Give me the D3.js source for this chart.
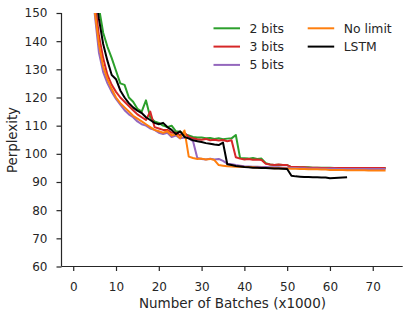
<!DOCTYPE html>
<html>
<head>
<meta charset="utf-8">
<script src="https://cdn.jsdelivr.net/npm/d3@7"></script>
<style>
  body { margin: 0; background: #fff; }
  svg text { font-family: "DejaVu Sans", sans-serif; fill: #262626; }
</style>
</head>
<body>
<svg id="chart" width="415" height="317"></svg>
<script>
// batches (x1000), one reading per thousand
const batches = d3.range(5, 74);

const bits2 = [172, 152, 143, 138, 134, 129.5, 125, 124.5, 120, 118.5, 116, 115, 119, 113, 111.5, 111, 110, 109.5, 110, 108,
  107.8, 107, 106.5, 106, 105.8, 105.8, 105.5, 105.6, 105.3, 105.5, 105.2, 105.4, 105.5, 106.7, 98.5, 98.4, 98.3, 98.5, 98.2, 98.3,
  96.7, 96.2, 96, 96.1, 96, 96, 95.3, 95.3, 95.2, 95.2, 95.2, 95.1, 95.1, 95.1, 95.1, 95.1, 95, 95, 95, 95,
  95, 95, 95, 95, 95, 95, 95, 95, 95];
const bits3 = [155, 142, 134, 128, 124.5, 122, 120, 118.5, 117, 115.5, 114, 113, 112, 115, 109.5, 109, 108.5, 108.5, 107.5, 107.5,
  106.5, 107.5, 106, 105.5, 105.2, 105, 105.3, 104.8, 105, 104.7, 104.9, 104.5, 104.8, 98.8, 98.3, 98, 98.2, 97.9, 98, 97.8,
  96.5, 96.2, 96, 96.2, 96, 96, 95.3, 95.3, 95.2, 95.2, 95.1, 95.1, 95.1, 95, 95, 95, 95, 95, 95, 95,
  95, 95, 95, 95, 95, 95, 95, 95, 95];
const bits5 = [150, 136, 129, 125, 122, 119.5, 117.5, 115.5, 114, 113, 111.5, 110.5, 110, 109, 108.5, 107.5, 107, 107.5, 106, 106.5,
  105.5, 105.8, 105.5, 104.5, 98.5, 98.2, 98, 98.3, 98, 98.2, 97.5, 96.5, 96.3, 96, 95.8, 95.6, 95.5, 95.4, 95.4, 95.3,
  95.3, 95.2, 95.2, 95.2, 95.1, 95.1, 95, 95, 94.9, 94.9, 94.8, 94.8, 94.8, 94.7, 94.7, 94.7, 94.7, 94.6, 94.6, 94.6,
  94.6, 94.6, 94.6, 94.6, 94.6, 94.6, 94.6, 94.6, 94.6];
const noLimit = [151, 139, 131, 126.5, 123, 120, 118, 116.5, 115, 113.5, 112.5, 111.5, 110.5, 109.5, 108.5, 108, 107.5, 108, 106.5, 107,
  105.5, 108.3, 99, 98.5, 98.2, 98.3, 98, 98.2, 97.8, 96, 95.8, 95.6, 95.5, 95.4, 95.4, 95.3, 95.3, 95.2, 95.1, 95.1,
  95, 95, 94.9, 94.9, 94.8, 94.8, 94.7, 94.7, 94.6, 94.6, 94.5, 94.5, 94.5, 94.4, 94.4, 94.3, 94.3, 94.3, 94.3, 94.2,
  94.2, 94.2, 94.2, 94.2, 94.1, 94.1, 94.1, 94.1, 94.1];
const lstm = [160, 148, 139, 133, 128, 126.5, 122.5, 120, 118, 116.5, 115.3, 114.5, 113, 112, 111, 110.5, 111, 109.5, 108.5, 107,
  108, 106, 105.5, 104.8, 104.5, 104.2, 103.8, 103.6, 103.3, 103.1, 104, 96.3, 96, 95.7, 95.5, 95.3, 95.2, 95.1, 95.1, 95,
  95, 94.9, 94.8, 94.8, 94.7, 94.6, 92.2, 92, 91.9, 91.8, 91.8, 91.7, 91.7, 91.6, 91.6, 91.3, 91.4, 91.5, 91.6, 91.7];

const seriesNames = ["2 bits", "3 bits", "5 bits", "No limit", "LSTM"];
const seriesValues = [bits2, bits3, bits5, noLimit, lstm];
const colors = ["#2ca02c", "#d62728", "#9467bd", "#ff7f0e", "#000000"];

const xTicks = [0, 10, 20, 30, 40, 50, 60, 70];
const yTicks = [60, 70, 80, 90, 100, 110, 120, 130, 140, 150];

const svg = d3.select("#chart");
const plotLeft = 61.5, plotRight = 402.7, plotTop = 13, plotBottom = 266.5;

const x = d3.scaleLinear().domain([-2.74, 77]).range([plotLeft, plotRight]);
const y = d3.scaleLinear().domain([60, 150]).range([plotBottom, plotTop]);

svg.append("clipPath").attr("id", "plotClip")
  .append("rect").attr("x", plotLeft).attr("y", plotTop)
  .attr("width", plotRight - plotLeft).attr("height", plotBottom - plotTop);

//lines, drawn in legend order so LSTM ends on top
const line = d3.line().x(d => x(d[0])).y(d => y(d[1]));
const plot = svg.append("g").attr("clip-path", "url(#plotClip)");
seriesValues.forEach((vals, i) => {
  const pts = vals.map((v, j) => [batches[j], v]);
  plot.append("path")
    .attr("d", line(pts))
    .attr("fill", "none")
    .attr("stroke", colors[i])
    .attr("stroke-width", 2)
    .attr("stroke-linejoin", "round");
});

const xAxis = svg.append("g")
  .attr("transform", `translate(0,${plotBottom})`)
  .call(d3.axisBottom(x).tickValues(xTicks).tickSize(4.5).tickPadding(11.5).tickFormat(d3.format("d")));
const yAxis = svg.append("g")
  .attr("transform", `translate(${plotLeft},0)`)
  .call(d3.axisLeft(y).tickValues(yTicks).tickSize(5).tickPadding(9).tickFormat(d3.format("d")));

[xAxis, yAxis].forEach(ax => {
  ax.select(".domain").attr("stroke", "#262626").attr("stroke-width", 1.2);
  ax.selectAll(".tick line").attr("stroke", "#262626").attr("stroke-width", 1.2);
  ax.selectAll(".tick text").attr("font-size", 12).attr("fill", "#262626")
    .style("font-family", "DejaVu Sans, sans-serif");
});
// the domain path has outer ticks by default; redraw plain spines
xAxis.select(".domain").attr("d", `M${plotLeft},0H${plotRight}`);
yAxis.select(".domain").attr("d", `M0,${plotTop}V${plotBottom}`);

svg.append("text")
  .attr("x", 232.5)
  .attr("y", 307.5)
  .attr("text-anchor", "middle")
  .attr("font-size", 13.5)
  .text("Number of Batches (x1000)");

svg.append("text")
  .attr("transform", `translate(16.5,140) rotate(-90)`)
  .attr("text-anchor", "middle")
  .attr("font-size", 13.3)
  .text("Perplexity");

// legend: two columns
const legend = svg.append("g");
seriesNames.forEach((name, i) => {
  const col = i < 3 ? 0 : 1;
  const row = i < 3 ? i : i - 3;
  const lx = col === 0 ? 213.5 : 307.7;
  const ly = 28.3 + row * 18.3;
  legend.append("line")
    .attr("x1", lx).attr("x2", lx + 26.5)
    .attr("y1", ly).attr("y2", ly)
    .attr("stroke", colors[i]).attr("stroke-width", 2);
  legend.append("text")
    .attr("x", lx + 36)
    .attr("y", ly + 4.5)
    .attr("font-size", 12.4)
    .text(name);
});
</script>
</body>
</html>
